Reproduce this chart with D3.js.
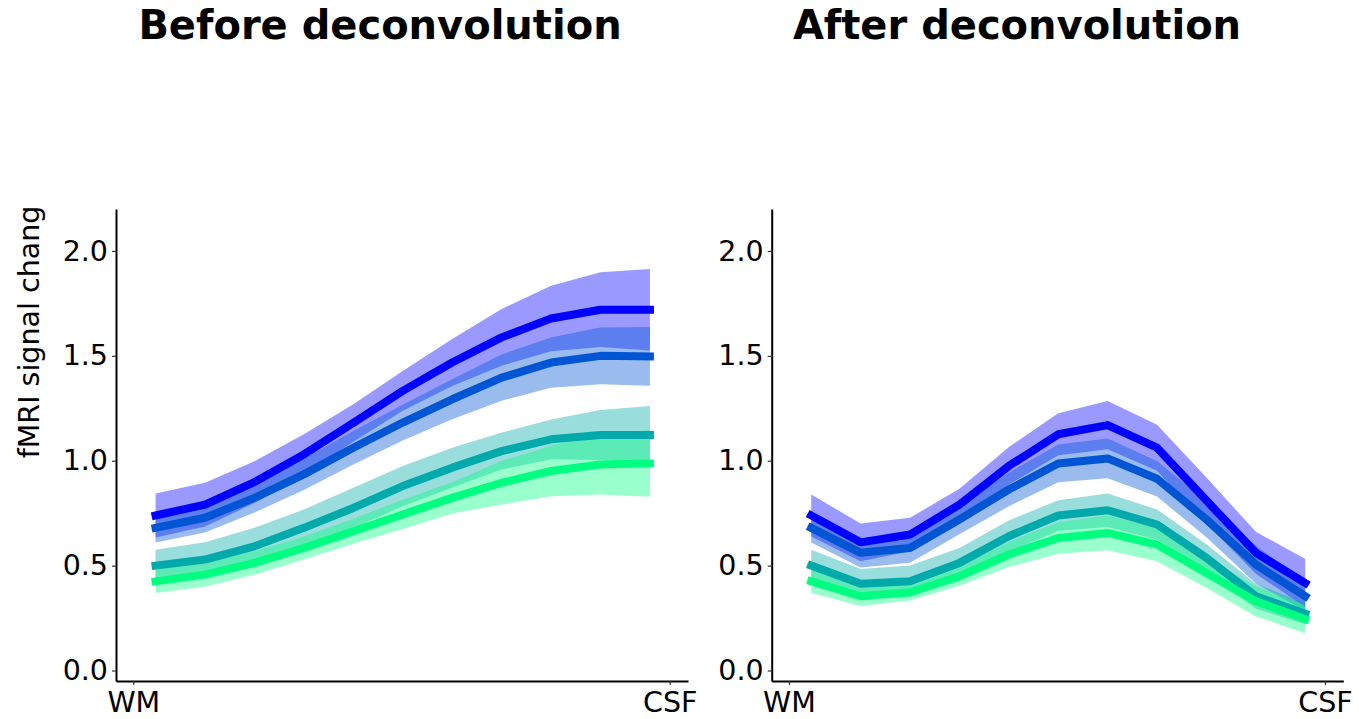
<!DOCTYPE html>
<html><head><meta charset="utf-8">
<script src="https://cdn.jsdelivr.net/npm/d3@7"></script>
<style>body{margin:0;background:#fff} svg{display:block}</style>
</head><body>
<svg id="c" width="1359" height="719"></svg>
<script>
// ---- data ----
const depth = [0,1,2,3,4,5,6,7,8,9,10];
const xTickValues = [-0.45, 10.4];
const xTickLabels = ["WM", "CSF"];
const yTicks = [0, 0.5, 1.0, 1.5, 2.0];
const panelTitles = ["Before deconvolution", "After deconvolution"];
const yLabel = "fMRI signal chang";

const beforeMeanA = [0.739, 0.791, 0.898, 1.03, 1.18, 1.333, 1.468, 1.588, 1.678, 1.72, 1.72];
const beforeSemA  = [0.105, 0.104, 0.1, 0.096, 0.089, 0.095, 0.112, 0.135, 0.156, 0.178, 0.194];
const beforeMeanB = [0.68, 0.728, 0.823, 0.935, 1.062, 1.182, 1.293, 1.396, 1.468, 1.5, 1.497];
const beforeSemB  = [0.07, 0.07, 0.07, 0.075, 0.08, 0.085, 0.095, 0.11, 0.12, 0.135, 0.14];
const beforeMeanC = [0.5, 0.529, 0.592, 0.68, 0.775, 0.879, 0.967, 1.046, 1.102, 1.123, 1.123];
const beforeSemC  = [0.076, 0.082, 0.088, 0.087, 0.096, 0.096, 0.095, 0.088, 0.095, 0.119, 0.138];
const beforeMeanD = [0.425, 0.457, 0.513, 0.584, 0.664, 0.744, 0.823, 0.895, 0.951, 0.982, 0.987];
const beforeSemD  = [0.056, 0.056, 0.056, 0.055, 0.06, 0.07, 0.075, 0.104, 0.12, 0.143, 0.159];

const afterMeanA = [0.739, 0.611, 0.648, 0.791, 0.975, 1.126, 1.17, 1.062, 0.81, 0.561, 0.417];
const afterSemA  = [0.10, 0.09, 0.08, 0.075, 0.09, 0.10, 0.115, 0.11, 0.11, 0.10, 0.115];
const afterMeanB = [0.68, 0.561, 0.584, 0.72, 0.863, 0.987, 1.011, 0.914, 0.72, 0.505, 0.354];
const afterSemB  = [0.07, 0.07, 0.07, 0.07, 0.08, 0.09, 0.095, 0.085, 0.085, 0.09, 0.07];
const afterMeanC = [0.5, 0.414, 0.425, 0.513, 0.64, 0.739, 0.764, 0.696, 0.537, 0.354, 0.271];
const afterSemC  = [0.076, 0.07, 0.075, 0.071, 0.075, 0.073, 0.08, 0.071, 0.065, 0.06, 0.05];
const afterMeanD = [0.425, 0.354, 0.373, 0.449, 0.553, 0.632, 0.656, 0.6, 0.465, 0.33, 0.245];
const afterSemD  = [0.056, 0.047, 0.039, 0.045, 0.06, 0.075, 0.083, 0.079, 0.07, 0.072, 0.067];

// ---- styles / layout ----
const seriesColors = ["#0000ff", "#0055d4", "#00aaaa", "#00ff80"];
const panels = [
  {title: panelTitles[0], left: 116, right: 688, titleX: 380,
   series: [[beforeMeanA, beforeSemA],[beforeMeanB, beforeSemB],[beforeMeanC, beforeSemC],[beforeMeanD, beforeSemD]]},
  {title: panelTitles[1], left: 771.7, right: 1343.3, titleX: 1017,
   series: [[afterMeanA, afterSemA],[afterMeanB, afterSemB],[afterMeanC, afterSemC],[afterMeanD, afterSemD]]}
];
const plotTop = 209, plotBottom = 681;
const FONT = "'DejaVu Sans', sans-serif";

const svg = d3.select("#c");
svg.append("rect").attr("width",1359).attr("height",719).attr("fill","#fff");

const y = d3.scaleLinear().domain([-0.05, 2.2]).range([plotBottom, plotTop]);

panels.forEach((p, pi) => {
  const x = d3.scaleLinear().domain([-0.8, 10.77]).range([p.left, p.right]);
  const g = svg.append("g");

  // bands then lines
  p.series.forEach(([mean, sem], si) => {
    const pts = depth.map((d, i) => ({d, m: mean[i], s: sem[i]}));
    g.append("path")
      .datum(pts)
      .attr("d", d3.area().x(v => x(v.d)).y0(v => y(v.m - v.s)).y1(v => y(v.m + v.s)))
      .attr("fill", seriesColors[si]).attr("fill-opacity", 0.4).attr("stroke", "none");
  });
  p.series.forEach(([mean, sem], si) => {
    const pts = depth.map((d, i) => ({d, m: mean[i]}));
    g.append("path")
      .datum(pts)
      .attr("d", d3.line().x(v => x(v.d)).y(v => y(v.m)))
      .attr("fill", "none").attr("stroke", seriesColors[si])
      .attr("stroke-width", 8).attr("stroke-linecap", "square").attr("stroke-linejoin", "round");
  });

  // axes
  const ya = g.append("g").attr("transform", `translate(${p.left},0)`)
    .call(d3.axisLeft(y).tickValues(yTicks).tickFormat(d3.format(".1f")).tickSize(4).tickPadding(4).tickSizeOuter(0));
  const xa = g.append("g").attr("transform", `translate(0,${plotBottom})`)
    .call(d3.axisBottom(x).tickValues(xTickValues).tickFormat((d, i) => xTickLabels[i]).tickSize(4).tickPadding(7).tickSizeOuter(0));
  [ya, xa].forEach(a => {
    a.select(".domain").attr("stroke", "#000").attr("stroke-width", 2);
    a.selectAll(".tick line").attr("stroke", "#333").attr("stroke-width", 1.2);
    a.selectAll(".tick text").attr("font-family", FONT).attr("font-size", 28.5).attr("fill", "#000");
  });

  // title
  svg.append("text").attr("x", p.titleX).attr("y", 39)
    .attr("text-anchor", "middle").attr("font-family", FONT).attr("font-weight", "bold")
    .attr("font-size", 40).attr("fill", "#000").text(p.title);
});

svg.append("text")
  .attr("transform", "translate(39,332) rotate(-90)")
  .attr("text-anchor", "middle").attr("font-family", FONT).attr("font-size", 28.5)
  .attr("fill", "#000").text(yLabel);
</script>
</body></html>
